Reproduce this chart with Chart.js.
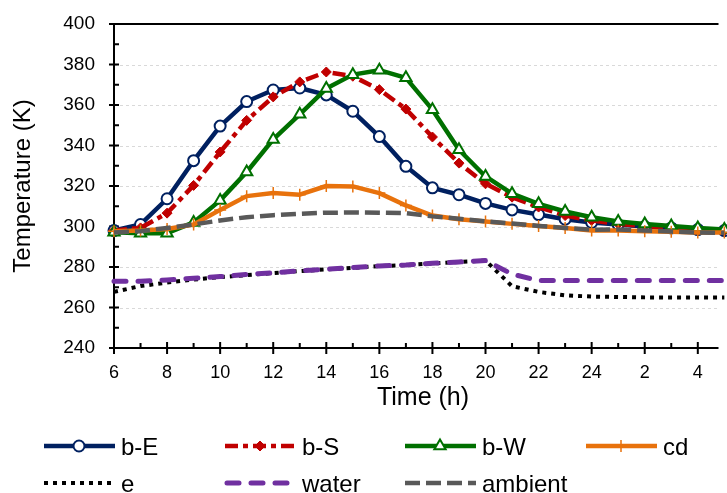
<!DOCTYPE html>
<html>
<head>
<meta charset="utf-8">
<script src="https://cdn.jsdelivr.net/npm/chart.js@4.4.1/dist/chart.umd.min.js"></script>
<style>
  html, body { margin: 0; padding: 0; background: #fff; overflow: hidden; }
  #wrap { position: relative; width: 727px; height: 493px; }
</style>
</head>
<body>
<div id="wrap"><canvas id="chart" width="727" height="493"></canvas></div>
<script>
// hours of the day, 6 h to 5 h next morning (shown as 24, 2, 4 ...)
const hours = [6, 7, 8, 9, 10, 11, 12, 13, 14, 15, 16, 17, 18, 19, 20, 21, 22, 23, 24, 25, 26, 27, 28, 29];
const xTickLabels = [6, 8, 10, 12, 14, 16, 18, 20, 22, 24, 2, 4];
const yTickValues = [240, 260, 280, 300, 320, 340, 360, 380, 400];

const bE = [298, 301, 313.7, 332.5, 349.6, 361.7, 367.4, 368.4, 365, 356.9, 344.4, 329.7,
            319.1, 315.7, 311.4, 308.2, 305.9, 303.6, 302, 301, 300, 299.3, 298.5, 298];
const bS = [298, 299.3, 306.6, 320.3, 336.8, 352.4, 364, 371.4, 376.3, 374.2, 367.6, 358,
            344.2, 331.3, 321.1, 314.5, 309.6, 305.4, 303, 301.3, 300.2, 299.4, 298.6, 298];
const bW = [297.2, 296.7, 296.7, 302, 312.9, 326.9, 343, 355.4, 368.1, 375, 377.2, 373.4,
            357.7, 337.9, 324.7, 316.2, 311.2, 307.4, 304.6, 302.5, 301.2, 300.2, 299.3, 298.5];
const cd = [297.7, 298, 298.8, 301, 308.2, 315, 316.5, 315.7, 320, 319.8, 316.5, 310.4,
            305.4, 303.6, 302.5, 301.3, 300.3, 299.3, 298, 298, 297.7, 297.4, 297, 297];
const e = [267.7, 270.6, 272.3, 273.8, 275, 276, 277, 278, 278.8, 279.6, 280.4, 281,
           281.8, 282.5, 283.2, 270.5, 267.7, 266, 265.4, 265.2, 265, 265, 265, 265];
const water = [273, 273, 273.6, 274.4, 275.3, 276.3, 277.1, 278.1, 278.9, 279.7, 280.5, 281,
               281.8, 282.5, 283.2, 276.5, 273.3, 273.3, 273.3, 273.3, 273.3, 273.3, 273.3, 273.3];
const ambient = [297, 297.7, 299.3, 301, 303, 304.6, 305.6, 306.3, 306.8, 306.9, 306.8, 306.6,
                 305, 303.8, 302.5, 301.5, 300.3, 299.3, 298.4, 298.5, 298, 297.5, 297, 296.9];

const FONT = "'Liberation Sans', Arial, sans-serif";

function pts(arr) {
  return hours.map((h, i) => ({ x: h, y: arr[i] }));
}

const series = [
  { label: 'b-E', data: bE, color: '#002060', dash: [], cap: 'butt', width: 4.5,
    point: 'circle', radius: 5.5, pbw: 2, fill: '#ffffff' },
  { label: 'b-S', data: bS, color: '#c00000', dash: [13, 5, 5, 5], cap: 'butt', width: 4.5,
    point: 'rectRot', radius: 5, pbw: 1, fill: '#c00000' },
  { label: 'b-W', data: bW, color: '#007000', dash: [], cap: 'butt', width: 4.5,
    point: 'triangle', radius: 6.5, pbw: 2, fill: '#ffffff' },
  { label: 'cd', data: cd, color: '#e8720c', dash: [], cap: 'butt', width: 4.5,
    point: 'cross', radius: 6, pbw: 1.5, fill: '#e8720c' },
  { label: 'e', data: e, color: '#000000', dash: [4, 5], cap: 'butt', width: 4,
    point: false, radius: 0, pbw: 0, fill: '#000000' },
  { label: 'water', data: water, color: '#7030a0', dash: [12, 12], cap: 'round', width: 5,
    point: false, radius: 0, pbw: 0, fill: '#7030a0' },
  { label: 'ambient', data: ambient, color: '#595959', dash: [15, 6], cap: 'butt', width: 4.5,
    point: false, radius: 0, pbw: 0, fill: '#595959' }
];

// axes, gridlines, ticks, titles and legend drawn by hand (Excel look)
const excelFrame = {
  id: 'excelFrame',
  beforeDatasetsDraw(chart) {
    const { ctx, chartArea: a, scales } = chart;
    const x = scales.x, y = scales.y;
    ctx.save();
    ctx.strokeStyle = '#d9d9d9';
    ctx.lineWidth = 1;
    ctx.setLineDash([3, 3]);
    for (let v = 260; v < 400; v += 20) {
      const py = Math.round(y.getPixelForValue(v)) + 0.5;
      ctx.beginPath(); ctx.moveTo(a.left, py); ctx.lineTo(a.right, py); ctx.stroke();
    }
    ctx.setLineDash([]);
    ctx.strokeStyle = '#000';
    ctx.lineWidth = 2;
    const x0 = a.left, yb = a.bottom, yt = a.top;
    ctx.beginPath();
    ctx.moveTo(x0, yt); ctx.lineTo(x0, yb);
    ctx.moveTo(x0 - 1, yt); ctx.lineTo(a.right, yt);
    ctx.moveTo(x0 - 1, yb); ctx.lineTo(a.right, yb);
    // y ticks
    for (let v = 240; v <= 400; v += 10) {
      const py = y.getPixelForValue(v);
      if (v % 20 === 0) { ctx.moveTo(x0 - 5, py); ctx.lineTo(x0 + 5, py); }
      else { ctx.moveTo(x0, py); ctx.lineTo(x0 + 5, py); }
    }
    // x ticks
    for (let h = 6; h <= 28; h++) {
      const px = x.getPixelForValue(h);
      if (h % 2 === 0) { ctx.moveTo(px, yb - 6); ctx.lineTo(px, yb + 6); }
      else { ctx.moveTo(px, yb - 5); ctx.lineTo(px, yb); }
    }
    ctx.stroke();
    ctx.restore();
  },
  afterDraw(chart) {
    const { ctx, chartArea: a } = chart;
    ctx.save();
    ctx.fillStyle = '#000';
    ctx.textAlign = 'center';
    ctx.textBaseline = 'alphabetic';
    ctx.font = '25px ' + FONT;
    ctx.fillText('Time (h)', 423, 405);
    ctx.save();
    ctx.translate(30, (a.top + a.bottom) / 2);
    ctx.rotate(-Math.PI / 2);
    ctx.font = '24px ' + FONT;
    ctx.fillText('Temperature (K)', 0, 0);
    ctx.restore();

    // legend
    const cols = [44, 225, 405, 586];
    const rows = [446, 483];
    ctx.font = '24px ' + FONT;
    ctx.textAlign = 'left';
    ctx.textBaseline = 'middle';
    series.forEach((s, i) => {
      const lx = cols[i < 4 ? i : i - 4];
      const ly = rows[i < 4 ? 0 : 1];
      ctx.strokeStyle = s.color;
      ctx.lineWidth = s.width;
      ctx.lineCap = s.cap === 'round' ? 'round' : 'butt';
      ctx.setLineDash(s.dash);
      ctx.beginPath();
      ctx.moveTo(lx + (s.cap === 'round' ? 2 : 0), ly);
      ctx.lineTo(lx + 71, ly);
      ctx.stroke();
      ctx.setLineDash([]);
      if (s.point) {
        ctx.fillStyle = s.fill;
        ctx.strokeStyle = s.color;
        ctx.lineWidth = s.pbw;
        Chart.helpers.drawPoint(ctx, { pointStyle: s.point, radius: s.radius, borderWidth: s.pbw, rotation: 0 }, lx + 35, ly);
      }
      ctx.fillStyle = '#000';
      ctx.fillText(s.label, lx + 77, ly + 2);
    });
    ctx.restore();
  }
};

document.addEventListener('DOMContentLoaded', function() {
  const ctx = document.getElementById('chart').getContext('2d');

  const datasets = series.map((s, i) => ({
    label: s.label,
    data: pts(s.data),
    borderColor: s.color,
    borderWidth: s.width,
    borderDash: s.dash,
    borderCapStyle: s.cap,
    borderJoinStyle: 'round',
    pointStyle: s.point,
    pointRadius: s.radius,
    pointHoverRadius: s.radius,
    pointBorderWidth: s.pbw,
    pointBorderColor: s.color,
    pointBackgroundColor: s.fill,
    tension: 0,
    fill: false,
    clip: false,
    order: series.length - i
  }));

  new Chart(ctx, {
    type: 'line',
    data: { datasets: datasets },
    options: {
      responsive: false,
      animation: false,
      events: [],
      layout: { padding: { top: 24, left: 0, right: 0, bottom: 0 } },
      plugins: { legend: { display: false }, tooltip: { enabled: false } },
      scales: {
        x: {
          type: 'linear',
          min: 6,
          max: 28.78,
          grid: { display: false, drawTicks: false },
          border: { display: false },
          afterBuildTicks: function(scale) {
            scale.ticks = xTickLabels.map((lab, i) => ({ value: 6 + i * 2 }));
          },
          afterFit: function(scale) {
            scale.height = 493 - 348;
            scale.paddingLeft = 0;
            scale.paddingRight = 0;
          },
          ticks: {
            padding: 14,
            color: '#000',
            font: { family: FONT, size: 18 },
            maxRotation: 0,
            autoSkip: false,
            callback: function(value) {
              return value > 24 ? value - 24 : value;
            }
          }
        },
        y: {
          min: 240,
          max: 400,
          grid: { display: false, drawTicks: false },
          border: { display: false },
          afterBuildTicks: function(scale) {
            scale.ticks = yTickValues.map(v => ({ value: v }));
          },
          afterFit: function(scale) {
            scale.width = 114;
            scale.paddingTop = 0;
            scale.paddingBottom = 0;
          },
          ticks: {
            padding: 19,
            color: '#000',
            font: { family: FONT, size: 19 }
          }
        }
      }
    },
    plugins: [excelFrame]
  });
});
</script>
</body>
</html>
